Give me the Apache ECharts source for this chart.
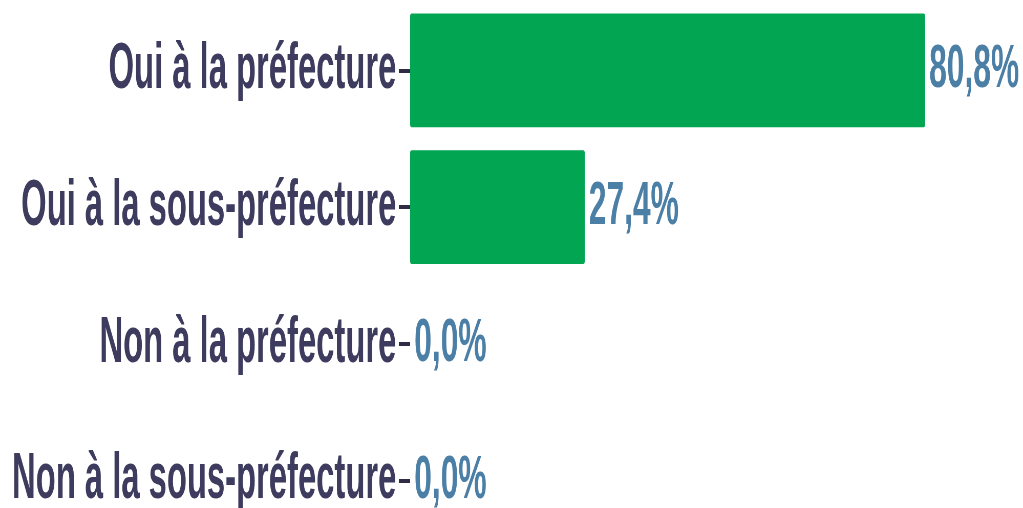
<!DOCTYPE html>
<html>
<head>
<meta charset="utf-8">
<script src="https://cdn.jsdelivr.net/npm/echarts@6/dist/echarts.min.js"></script>
<style>
html,body{margin:0;padding:0;background:#fff;overflow:hidden;}
/* the source text is very tall and narrow, so the whole chart is squeezed horizontally */
#main{width:1998px;height:508px;transform:scaleX(0.512);transform-origin:0 0;}
</style>
</head>
<body>
<div id="main"></div>
<script>
var categories = ['Oui à la préfecture', 'Oui à la sous-préfecture', 'Non à la préfecture', 'Non à la sous-préfecture'];
var values = [80.8, 27.4, 0.0, 0.0];

var chart = echarts.init(document.getElementById('main'));
var option = {
    animation: false,
    grid: {
        left: 801,
        top: 2,
        width: 1195,
        height: 547,
        outerBoundsMode: 'none'
    },
    xAxis: {
        type: 'value',
        min: 0,
        max: 96,
        show: false
    },
    yAxis: {
        type: 'category',
        inverse: true,
        data: categories,
        axisLine: { show: false },
        axisTick: {
            show: true,
            alignWithLabel: true,
            length: 22,
            lineStyle: { color: '#2f2d45', width: 4 }
        },
        axisLabel: {
            margin: 27,
            color: '#3d3b5e',
            fontFamily: 'Liberation Sans',
            fontWeight: 'bold',
            fontSize: 64
        }
    },
    series: [{
        type: 'bar',
        data: values,
        barCategoryGap: '17%',
        itemStyle: { color: '#02a552', borderRadius: 3 },
        label: {
            show: true,
            position: 'right',
            distance: 8,
            color: '#4b7fa6',
            fontFamily: 'Liberation Sans',
            fontWeight: 'bold',
            fontSize: 62,
            formatter: function (p) {
                return p.value.toFixed(1).replace('.', ',') + '%';
            }
        }
    }]
};
chart.setOption(option);
</script>
</body>
</html>
